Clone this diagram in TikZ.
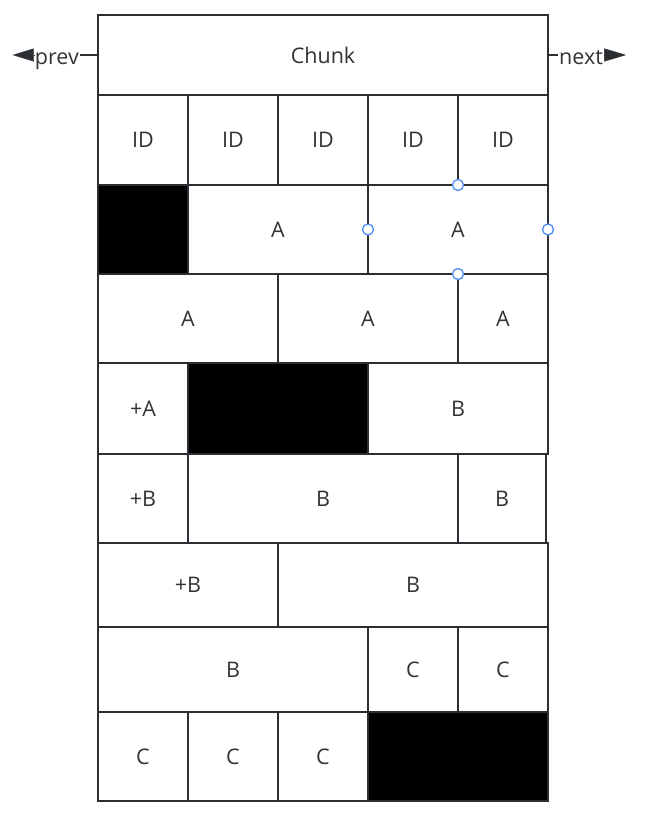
\documentclass[tikz,border=0pt]{standalone}
\usepackage{fontspec}
\setmainfont{Open Sans}
\usetikzlibrary{arrows.meta,positioning}

\definecolor{edge}{HTML}{2B2F33}
\definecolor{ink}{HTML}{333333}
\definecolor{select}{HTML}{4D8CF5}

\tikzset{
    cell/.style={draw=edge, line width=2.5pt, fill=white, text=ink,
        inner sep=0pt, outer sep=0pt, anchor=north west,
        font=\fontsize{21.5}{24}\selectfont},
    hole/.style={cell, fill=black},
    handle/.style={circle, draw=select, fill=white, line width=1.3pt,
        minimum size=11pt, inner sep=0pt},
    pointer/.style={text=ink, inner sep=1pt, font=\fontsize{21.5}{24}\selectfont},
}

\begin{document}
\begin{tikzpicture}[x=1pt,y=-1pt]

            \useasboundingbox (0,0) rectangle (661,816);

            % header
            \node[cell, minimum width=450pt, minimum height=80pt] (chunk) at (98,15) {Chunk};

            % ids
            \node[cell, minimum width=90pt, minimum height=90pt] (id1) at (98,95) {ID};
            \node[cell, minimum width=90pt, minimum height=90pt] (id2) at (188,95) {ID};
            \node[cell, minimum width=90pt, minimum height=90pt] (id3) at (278,95) {ID};
            \node[cell, minimum width=90pt, minimum height=90pt] (id4) at (368,95) {ID};
            \node[cell, minimum width=90pt, minimum height=90pt] (id5) at (458,95) {ID};

            % object A
            \node[hole, minimum width=90pt, minimum height=89pt] (gap1) at (98,185) {};
            \node[cell, minimum width=180pt, minimum height=89pt] (a1) at (188,185) {A};
            \node[cell, minimum width=180pt, minimum height=89pt] (a2) at (368,185) {A};

            \node[cell, minimum width=180pt, minimum height=89pt] (a3) at (98,274) {A};
            \node[cell, minimum width=180pt, minimum height=89pt] (a4) at (278,274) {A};
            \node[cell, minimum width=90pt, minimum height=89pt] (a5) at (458,274) {A};

            \node[cell, minimum width=90pt, minimum height=91pt] (pa) at (98,363) {+A};
            \node[hole, minimum width=180pt, minimum height=91pt] (gap2) at (188,363) {};

            % object B
            \node[cell, minimum width=180pt, minimum height=91pt] (b1) at (368,363) {B};

            \node[cell, minimum width=90pt, minimum height=89pt] (pb1) at (98,454) {+B};
            \node[cell, minimum width=270pt, minimum height=89pt] (b2) at (188,454) {B};
            \node[cell, minimum width=88pt, minimum height=89pt] (b3) at (458,454) {B};

            \node[cell, minimum width=180pt, minimum height=84pt] (pb2) at (98,543) {+B};
            \node[cell, minimum width=270pt, minimum height=84pt] (b4) at (278,543) {B};

            \node[cell, minimum width=270pt, minimum height=85pt] (b5) at (98,627) {B};

            % object C
            \node[cell, minimum width=90pt, minimum height=85pt] (c1) at (368,627) {C};
            \node[cell, minimum width=90pt, minimum height=85pt] (c2) at (458,627) {C};

            \node[cell, minimum width=90pt, minimum height=89pt] (c3) at (98,712) {C};
            \node[cell, minimum width=90pt, minimum height=89pt] (c4) at (188,712) {C};
            \node[cell, minimum width=90pt, minimum height=89pt] (c5) at (278,712) {C};
            \node[hole, minimum width=180pt, minimum height=89pt] (gap3) at (368,712) {};

            % links
            \node[pointer, left=18pt of chunk, anchor=base east, yshift=-9pt] (prev) {prev};
            \node[pointer, right=10pt of chunk, anchor=base west, yshift=-9pt] (next) {next};
            \coordinate (prevend) at (prev.east |- chunk.west);
            \coordinate (nextend) at (next.west |- chunk.east);
            \coordinate[left=21pt of prev.west |- chunk.west] (prevtip);
            \coordinate[right=22pt of next.east |- chunk.east] (nexttip);

            \draw[edge, line width=2pt] (chunk.west) -- (prevend);
            \draw[edge, line width=2pt] (chunk.east) -- (nextend);
            \draw[edge, line width=0.5pt, -{Triangle[length=21pt,width=13pt]}] (prev.west |- chunk.west) -- (prevtip);
            \draw[edge, line width=0.5pt, -{Triangle[length=22pt,width=13pt]}] (next.east |- chunk.east) -- (nexttip);

            % selection handles
            \node[handle] (h1) at (a2.north) {};
            \node[handle] (h2) at (a2.west) {};
            \node[handle] (h3) at (a2.east) {};
            \node[handle] (h4) at (a2.south) {};

\end{tikzpicture}
\end{document}
